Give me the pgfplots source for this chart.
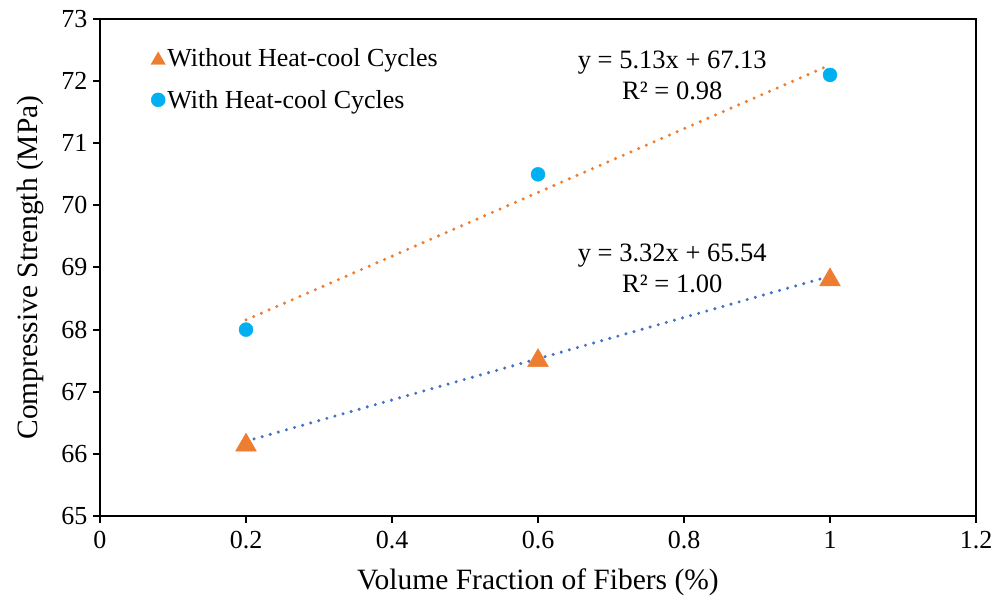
\documentclass[border=0pt]{standalone}
\usepackage{pgfplots}
\pgfplotsset{compat=1.18}
\usepackage{fontspec}
\setmainfont{Liberation Serif}
\definecolor{xorange}{HTML}{ED7D31}
\definecolor{xcyan}{HTML}{00B0F0}
\definecolor{xblue}{HTML}{4472C4}
\begin{document}
\begin{tikzpicture}
\begin{axis}[
  scale only axis, width=876pt, height=497pt,
  xmin=0, xmax=1.2, ymin=65, ymax=73,
  xtick={0,0.2,0.4,0.6,0.8,1,1.2},
  xticklabels={0,0.2,0.4,0.6,0.8,1,1.2},
  ytick={65,66,67,68,69,70,71,72,73},
  tick pos=left, tick align=outside, major tick length=7pt,
  tick style={line width=2pt, black},
  axis line style={line width=2.5pt},
  /pgf/number format/assume math mode=true,
  tick label style={font=\fontsize{26}{30}\selectfont},
  xticklabel style={yshift=-5pt},
  yticklabel style={xshift=-2pt},
  xlabel={Volume Fraction of Fibers (\%)},
  ylabel={Compressive Strength (MPa)},
  label style={font=\fontsize{29.5}{33}\selectfont},
  xlabel style={at={(axis description cs:0.5,-0.1328)}, anchor=center},
  ylabel style={at={(axis description cs:-0.0799,0.5)}, anchor=center},
  legend style={draw=none, fill=none, at={(rel axis cs:0.058,0.949)}, anchor=north west,
    font=\fontsize{26}{30}\selectfont, row sep=18pt, inner xsep=0pt},
  legend cell align=left,
  legend image code/.code={\draw[mark repeat=2,mark phase=2] plot coordinates {(0pt,0pt)(9pt,0pt)(16pt,0pt)};},
]
\addplot[only marks, mark=triangle*, mark size=12pt, color=xorange,
  mark options={yshift=-3pt}, legend image post style={mark size=8.3pt, mark options={yshift=-2pt}}]
  coordinates {(0.2,66.19) (0.6,67.55) (1.0,68.85)};
\addlegendentry{Without Heat-cool Cycles}
\addplot[only marks, mark=*, mark size=7pt, color=xcyan,
  legend image post style={mark size=7pt}]
  coordinates {(0.2,68.0) (0.6,70.5) (1.0,72.1)};
\addlegendentry{With Heat-cool Cycles}
\addplot[forget plot, xorange, line width=3.4pt, line cap=round, dash pattern=on 0pt off 8.4pt]
  coordinates {(0.2,68.156) (1.0,72.26)};
\addplot[forget plot, xblue, line width=3.4pt, line cap=round, dash pattern=on 0pt off 8.4pt]
  coordinates {(0.2,66.204) (1.0,68.86)};
\node[align=center, font=\fontsize{26.5}{31}\selectfont] at (axis cs:0.784,72.09) {y = 5.13x + 67.13\\R² = 0.98};
\node[align=center, font=\fontsize{26.5}{31}\selectfont] at (axis cs:0.784,68.99) {y = 3.32x + 65.54\\R² = 1.00};
\end{axis}
\path[use as bounding box] ([xshift=-100pt,yshift=-89pt]current axis.south west) rectangle ([xshift=27pt,yshift=19pt]current axis.north east);
\end{tikzpicture}
\end{document}
